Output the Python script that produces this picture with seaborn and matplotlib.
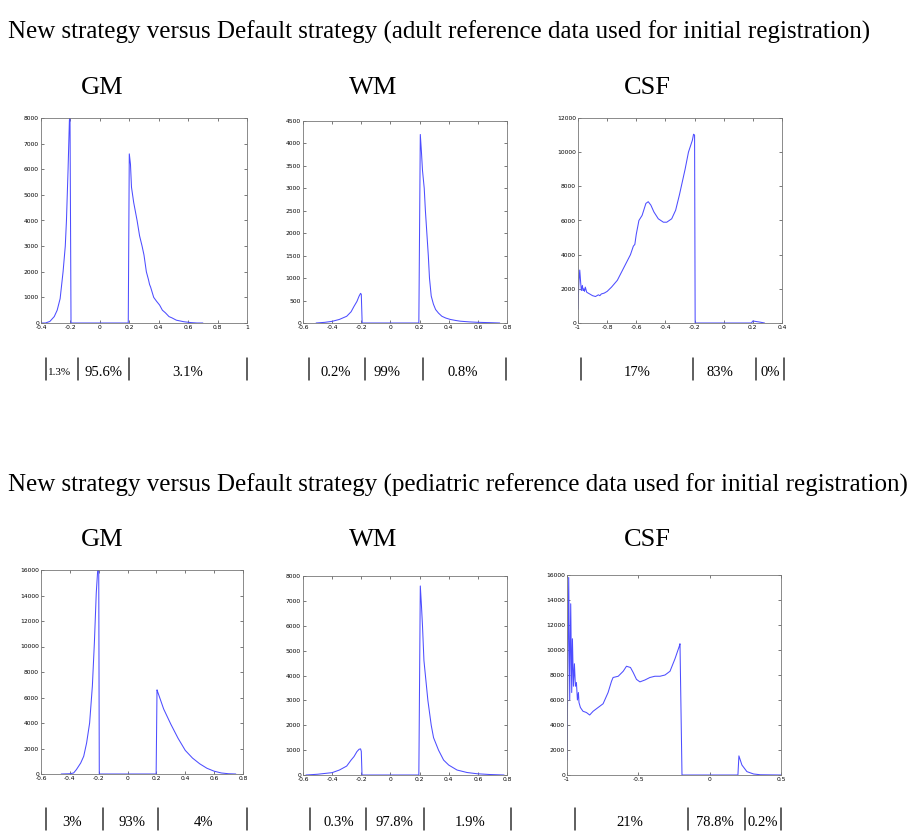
import numpy as np
import seaborn as sns
import matplotlib
matplotlib.use('Agg')
import matplotlib.pyplot as plt
from matplotlib.lines import Line2D
from matplotlib.ticker import FuncFormatter

# ---- data ----
titles = ['New strategy versus Default strategy (adult reference data used for initial registration)',
          'New strategy versus Default strategy (pediatric reference data used for initial registration)']
tissues = ['GM', 'WM', 'CSF']

# adult reference
x_gm_adult = [-0.40, -0.37, -0.34, -0.31, -0.29, -0.27, -0.25, -0.235, -0.227, -0.216, -0.207, -0.203, -0.196,
              0.193, 0.200, 0.208, 0.215, 0.23, 0.253, 0.27, 0.287, 0.30, 0.316, 0.33, 0.338, 0.345, 0.366,
              0.385, 0.406, 0.425, 0.445, 0.47, 0.49, 0.52, 0.57, 0.62, 0.66, 0.70]
y_gm_adult = [0, 0, 60, 250, 500, 950, 2000, 3000, 4000, 6000, 7900, 8200, 0,
              0, 6600, 6200, 5300, 4700, 4000, 3400, 3000, 2650, 2000, 1700, 1500, 1400, 1000,
              850, 700, 500, 400, 250, 200, 110, 50, 15, 0, 0]

x_wm_adult = [-0.51, -0.45, -0.40, -0.35, -0.30, -0.27, -0.25, -0.23, -0.215, -0.205, -0.200, -0.194,
              0.195, 0.205, 0.213, 0.22, 0.232, 0.24, 0.25, 0.26, 0.268, 0.28, 0.295, 0.31, 0.33, 0.353,
              0.38, 0.41, 0.45, 0.48, 0.54, 0.60, 0.68, 0.75]
y_wm_adult = [0, 15, 37, 80, 150, 250, 370, 480, 600, 660, 640, 0,
              0, 4200, 3800, 3400, 3000, 2500, 2000, 1500, 1000, 600, 420, 300, 220, 150,
              110, 80, 55, 40, 25, 15, 8, 0]

x_csf_adult = [-1.0, -0.995, -0.988, -0.982, -0.977, -0.97, -0.965, -0.96, -0.955, -0.95, -0.94, -0.93,
               -0.92, -0.90, -0.88, -0.86, -0.85, -0.84, -0.82, -0.80, -0.77, -0.73, -0.70, -0.67, -0.64,
               -0.62, -0.61, -0.60, -0.582, -0.56, -0.534, -0.518, -0.50, -0.479, -0.449, -0.414, -0.391,
               -0.357, -0.33, -0.304, -0.265, -0.242, -0.215, -0.207, -0.200, -0.196, 0.19, 0.20, 0.22,
               0.25, 0.28]
y_csf_adult = [800, 2200, 3100, 2400, 1900, 2200, 1900, 2000, 1850, 2100, 1800, 1750,
               1700, 1600, 1550, 1650, 1600, 1700, 1750, 1850, 2100, 2500, 3000, 3500, 4000,
               4500, 4600, 5200, 6000, 6300, 7000, 7100, 6900, 6500, 6100, 5900, 5900,
               6100, 6600, 7500, 9000, 10000, 10700, 11050, 11000, 0, 0, 120, 90,
               50, 0]

# pediatric reference
x_gm_ped = [-0.46, -0.40, -0.374, -0.355, -0.325, -0.304, -0.284, -0.263, -0.244, -0.23, -0.217, -0.207,
            -0.200, -0.196, 0.198, 0.204, 0.21, 0.25, 0.30, 0.35, 0.40, 0.45, 0.50, 0.55, 0.60, 0.65,
            0.70, 0.75]
y_gm_ped = [0, 20, 80, 340, 860, 1390, 2430, 4000, 6900, 10300, 14200, 16000,
            16500, 0, 0, 6600, 6400, 5100, 3900, 2800, 1850, 1250, 800, 450, 220, 80,
            20, 0]

x_wm_ped = [-0.58, -0.50, -0.40, -0.35, -0.30, -0.27, -0.25, -0.23, -0.215, -0.205, -0.200, -0.195,
            0.195, 0.205, 0.213, 0.22, 0.23, 0.257, 0.28, 0.296, 0.33, 0.365, 0.40, 0.457, 0.526,
            0.595, 0.68, 0.78]
y_wm_ped = [0, 30, 95, 200, 360, 600, 740, 940, 1035, 1050, 950, 0,
            0, 7600, 6800, 6000, 4600, 3000, 2000, 1500, 1000, 600, 400, 200, 100,
            50, 20, 0]

x_csf_ped = [-1.0, -0.988, -0.981, -0.974, -0.967, -0.962, -0.955, -0.948, -0.941, -0.934, -0.927, -0.920,
             -0.916, -0.906, -0.888, -0.864, -0.841, -0.817, -0.782, -0.747, -0.712, -0.688, -0.677,
             -0.641, -0.606, -0.583, -0.555, -0.536, -0.513, -0.489, -0.454, -0.419, -0.384, -0.348,
             -0.313, -0.278, -0.243, -0.213, -0.208, -0.194, 0.198, 0.205, 0.226, 0.261, 0.308, 0.355,
             0.50]
y_csf_ped = [1200, 15800, 6000, 13700, 6600, 10900, 7100, 8900, 7100, 7400, 6000, 6600,
             5800, 5400, 5100, 5000, 4800, 5100, 5400, 5700, 6600, 7500, 7800,
             7900, 8300, 8700, 8600, 8200, 7650, 7450, 7600, 7800, 7900, 7900,
             8000, 8300, 9300, 10300, 10500, 0, 0, 1530, 800, 270, 80, 20,
             0]

# percentages under each panel
pct_adult = [['1.3%', '95.6%', '3.1%'], ['0.2%', '99%', '0.8%'], ['17%', '83%', '0%']]
pct_ped = [['3%', '93%', '4%'], ['0.3%', '97.8%', '1.9%'], ['21%', '78.8%', '0.2%']]

# ---- layout (pixels in a 920x838 canvas) ----
W, H = 920, 838
axes_px = [(41, 118, 247, 323), (303, 121, 507, 323), (578, 118, 782, 323),
           (41, 570, 243, 774), (303, 576, 507, 775), (567, 575, 781, 775)]
limits = [((-0.4, 1.0), 0.2, 8000, 1000), ((-0.6, 0.8), 0.2, 4500, 500), ((-1.0, 0.4), 0.2, 12000, 2000),
          ((-0.6, 0.8), 0.2, 16000, 2000), ((-0.6, 0.8), 0.2, 8000, 1000), ((-1.0, 0.5), 0.5, 16000, 2000)]
series = [(x_gm_adult, y_gm_adult), (x_wm_adult, y_wm_adult), (x_csf_adult, y_csf_adult),
          (x_gm_ped, y_gm_ped), (x_wm_ped, y_wm_ped), (x_csf_ped, y_csf_ped)]

bar_px = [[[45.7, 78.3, 129.3, 246.7], [309.3, 365, 422.7, 505.7], [580.7, 692.7, 755.7, 784.3]],
          [[45.7, 102.7, 158.3, 246.7], [310.4, 365.7, 423.6, 511.5], [574.6, 687.8, 744.6, 781]]]
pct_x_px = [[[60, 104, 188], [336, 387, 462.7], [636.7, 720, 770]],
            [[71.7, 131.7, 203.3], [338.9, 394.1, 470.4], [629.9, 715.2, 763]]]
pct_y_px = [372, 822]
bar_y_px = [(358, 380), (808, 830)]
title_y_px = [32, 485]
sub_y_px = [88, 540]
sub_x_px = [102, 373, 647]

sns.set_theme(style='ticks')
plt.rcParams['font.family'] = ['DejaVu Sans']
plt.rcParams['text.color'] = 'black'
serif = ['Liberation Serif', 'DejaVu Serif']

fig = plt.figure(figsize=(W / 100, H / 100), dpi=100, facecolor='white')

fmt = FuncFormatter(lambda v, p: '%g' % (round(v, 6) + 0))
for i, ((l, t, r, b), (xs, ys), (xl, xstep, ymax, ystep)) in enumerate(zip(axes_px, series, limits)):
    ax = fig.add_axes([l / W, 1 - b / H, (r - l) / W, (b - t) / H])
    sns.lineplot(x=xs, y=ys, ax=ax, sort=False, estimator=None, color='#4d4dff', linewidth=0.75)
    ax.set_xlim(xl)
    ax.set_ylim(0, ymax)
    ax.set_xticks(np.arange(xl[0], xl[1] + 1e-9, xstep))
    ax.set_yticks(np.arange(0, ymax + 1e-9, ystep))
    ax.xaxis.set_major_formatter(fmt)
    ax.yaxis.set_major_formatter(fmt)
    ax.tick_params(direction='in', length=2.5, width=0.5, labelsize=4.3, pad=1.5,
                   top=True, right=True, colors='#444444', labelcolor='black')
    for s in ax.spines.values():
        s.set_linewidth(0.6)
        s.set_color('#777777')
    ax.set_xlabel('')
    ax.set_ylabel('')

for row in range(2):
    fig.text(8 / W, 1 - title_y_px[row] / H, titles[row], ha='left', va='center',
             fontsize=18, family=serif, color='black')
    pcts = pct_adult if row == 0 else pct_ped
    for j in range(3):
        fig.text(sub_x_px[j] / W, 1 - sub_y_px[row] / H, tissues[j], ha='center', va='center',
                 fontsize=19, family=serif, color='black')
        for xb in bar_px[row][j]:
            fig.add_artist(Line2D([xb / W, xb / W], [1 - bar_y_px[row][0] / H, 1 - bar_y_px[row][1] / H],
                                  transform=fig.transFigure, color='#333333', linewidth=1.1))
        for k, label in enumerate(pcts[j]):
            size = 8 if (row == 0 and j == 0 and k == 0) else 10.5
            fig.text(pct_x_px[row][j][k] / W, 1 - pct_y_px[row] / H, label, ha='center', va='center',
                     fontsize=size, family=serif, color='black')

fig.savefig('out.png', dpi=100, facecolor='white')
